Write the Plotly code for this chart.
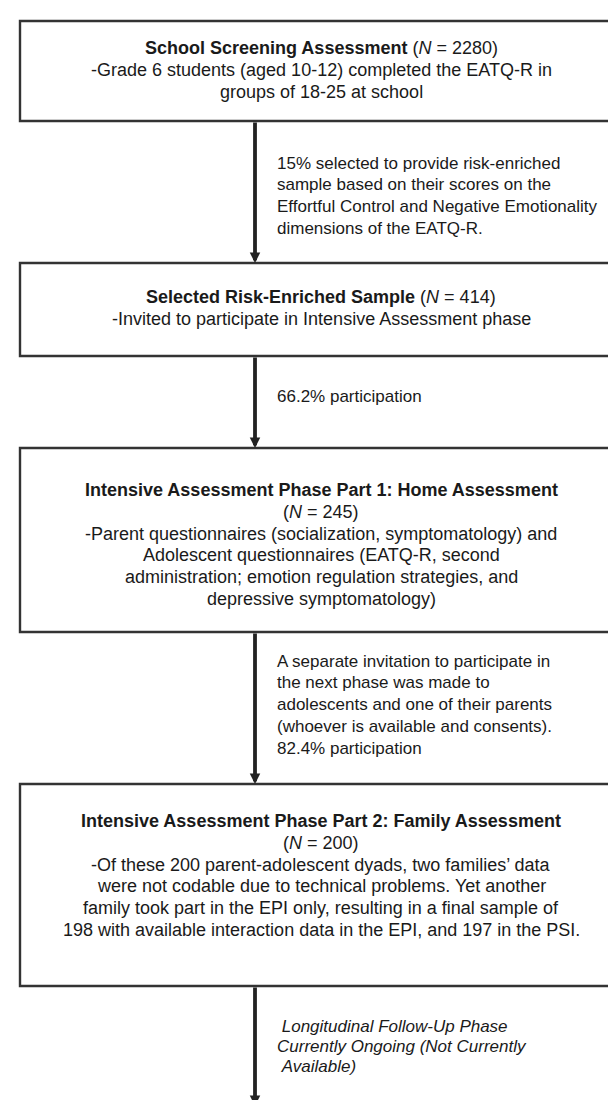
import plotly.graph_objects as go

# ---- content (data) ----
box_titles = [
    "School Screening Assessment",
    "Selected Risk-Enriched Sample",
    "Intensive Assessment Phase Part 1: Home Assessment",
    "Intensive Assessment Phase Part 2: Family Assessment",
]
box_ns = [2280, 414, 245, 200]
title_n_inline = [True, True, False, False]
box_bodies = [
    ["-Grade 6 students (aged 10-12) completed the EATQ-R in",
     "groups of 18-25 at school"],
    ["-Invited to participate in Intensive Assessment phase"],
    ["-Parent questionnaires (socialization, symptomatology) and",
     "Adolescent questionnaires (EATQ-R, second",
     "administration; emotion regulation strategies, and",
     "depressive symptomatology)"],
    ["-Of these 200 parent-adolescent dyads, two families\u2019 data",
     "were not codable due to technical problems. Yet another",
     "family took part in the EPI only, resulting in a final sample of",
     "198 with available interaction data in the EPI, and 197 in the PSI."],
]
arrow_labels = [
    ["15% selected to provide risk-enriched",
     "sample based on their scores on the",
     "Effortful Control and Negative Emotionality",
     "dimensions of the EATQ-R."],
    ["66.2% participation"],
    ["A separate invitation to participate in",
     "the next phase was made to",
     "adolescents and one of their parents",
     "(whoever is available and consents).",
     "82.4% participation"],
    ["\u00a0Longitudinal Follow-Up Phase",
     "Currently Ongoing (Not Currently",
     "\u00a0Available)"],
]
arrow_italic = [False, False, False, True]

# ---- layout geometry (pixels, y downwards) ----
W, H = 616, 1100
box_x0, box_x1 = 12, 614
box_tops = [13, 255, 440, 776]
box_bottoms = [113, 348, 624, 978]
box_first_line = [40, 289, 482, 813]
arrow_x = 247
arrow_text_x = 268
arrow_first_line = [155, 388, 653, 1018]
final_arrow_end = 1098
LINE = 21.8
FONT = "Liberation Sans, Arial, Helvetica, sans-serif"
FS_BOX = 18.0
FS_ARROW = 17.0
INK = "#1a1a1a"

fig = go.Figure()
shapes = []
annotations = []

cx = (box_x0 + box_x1) / 2
for i in range(4):
    shapes.append(dict(type="rect", xref="x", yref="y",
                       x0=box_x0, x1=box_x1, y0=box_tops[i], y1=box_bottoms[i],
                       line=dict(color="#333333", width=2.4), fillcolor="white",
                       layer="below"))
    lines = []
    if title_n_inline[i]:
        lines.append(f"<b>{box_titles[i]}</b> (<i>N</i> = {box_ns[i]})")
    else:
        lines.append(f"<b>{box_titles[i]}</b>")
        lines.append(f"(<i>N</i> = {box_ns[i]})")
    lines += box_bodies[i]
    for k, t in enumerate(lines):
        annotations.append(dict(x=cx, y=box_first_line[i] + k * LINE, xref="x", yref="y",
                                text=t, showarrow=False, xanchor="center", yanchor="middle",
                                font=dict(family=FONT, size=FS_BOX, color=INK)))

# arrows
ends = box_tops[1:] + [final_arrow_end]
for i in range(4):
    start = box_bottoms[i]
    end = ends[i]
    annotations.append(dict(x=arrow_x, y=end, ax=arrow_x, ay=start,
                            xref="x", yref="y", axref="x", ayref="y",
                            text="", showarrow=True, arrowhead=2, arrowsize=0.55,
                            arrowwidth=3.8, arrowcolor="#222222", standoff=0, startstandoff=0))
    step = 20 if arrow_italic[i] else LINE
    for k, t in enumerate(arrow_labels[i]):
        txt = f"<i>{t}</i>" if arrow_italic[i] else t
        annotations.append(dict(x=arrow_text_x, y=arrow_first_line[i] + k * step,
                                xref="x", yref="y", text=txt, showarrow=False,
                                xanchor="left", yanchor="middle", borderpad=0,
                                font=dict(family=FONT, size=FS_ARROW, color=INK)))

fig.update_layout(
    width=W, height=H, margin=dict(l=0, r=0, t=0, b=0),
    paper_bgcolor="white", plot_bgcolor="white",
    xaxis=dict(range=[0, W], visible=False, fixedrange=True),
    yaxis=dict(range=[H, 0], visible=False, fixedrange=True),
    shapes=shapes, annotations=annotations, showlegend=False,
)

fig.write_html("out.html")
